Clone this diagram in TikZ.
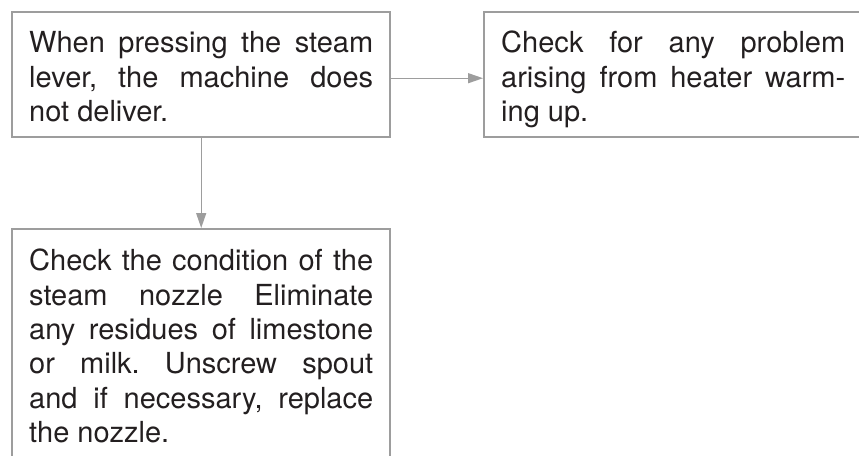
\documentclass[tikz,border=0pt]{standalone}
\usepackage{fontspec}
\setmainfont{TeX Gyre Heros}
\usetikzlibrary{arrows.meta}
\definecolor{boxgray}{HTML}{9D9D9D}
\definecolor{ink}{HTML}{231F20}
\newcommand{\fullline}[1]{\makebox[\linewidth][s]{#1}}
\frenchspacing
\begin{document}
\begin{tikzpicture}[x=1pt,y=1pt,
  box/.style={draw=boxgray, line width=2.4pt, inner xsep=17pt, inner ysep=0pt,
    text=ink, anchor=north west, font=\fontsize{29pt}{34.4pt}\selectfont},
  arr/.style={draw=boxgray, line width=1.3pt, -{Triangle[length=15pt,width=10pt]}}]
\useasboundingbox (0,0) rectangle (859,-455);
\clip (0,0) rectangle (859,-455);
\node[box] (b1) at (11,-11) {\parbox[t][125pt][t]{344pt}{\rule{0pt}{40.5pt}\fullline{When pressing the steam}\\\fullline{lever, the machine does}\\not deliver.}};
\node[box] (b2) at (483,-11) {\parbox[t][125pt][t]{344pt}{\rule{0pt}{40.5pt}\fullline{Check for any problem}\\\fullline{arising from heater warm-}\\ing up.}};
\node[box] (b3) at (11,-228) {\parbox[t][250pt][t]{344pt}{\rule{0pt}{41.5pt}\fullline{Check the condition of the}\\\fullline{steam nozzle Eliminate}\\\fullline{any residues of limestone}\\\fullline{or milk. Unscrew spout}\\\fullline{and if necessary, replace}\\the nozzle.}};
\draw[arr] ([yshift=-3.5pt]b1.east) -- ([yshift=-3.5pt]b2.west);
\draw[arr] (b1.south) -- (b3.north);
\end{tikzpicture}
\end{document}
